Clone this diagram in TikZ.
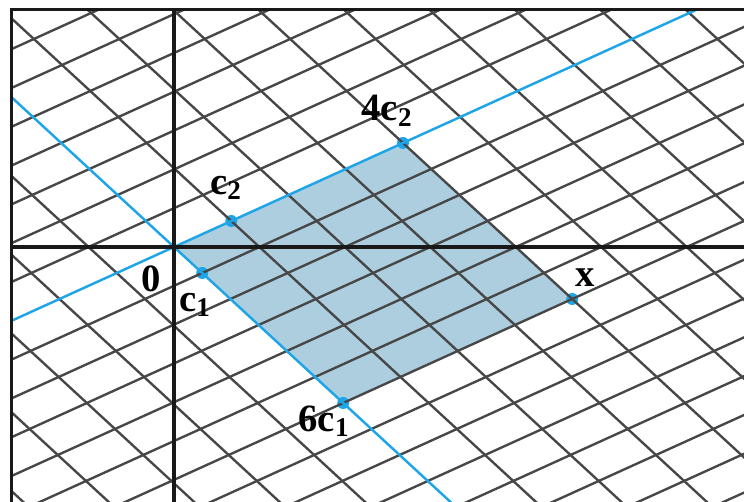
\documentclass[tikz,border=0pt]{standalone}
\usepackage{fontspec}
\setmainfont{Liberation Serif}
\usetikzlibrary{calc}
\begin{document}
\begin{tikzpicture}[x=0.02cm,y=-0.02cm,
  gridline/.style={draw=black!72,line width=1.35pt},
  blueline/.style={draw=cblue,line width=1.4pt},
  axis/.style={draw=black!90,line width=2.1pt},
  dot/.style={circle,fill=cblue,inner sep=0pt,minimum size=0.24cm},
  lab/.style={font=\fontsize{22}{26}\selectfont\bfseries,inner sep=0pt}]
\definecolor{cblue}{RGB}{30,165,232}
\definecolor{pshade}{RGB}{172,206,222}
\useasboundingbox (0,0) rectangle (744,502);
\coordinate (O) at (174,247);
\coordinate (c1) at (202.2,273);
\coordinate (c2) at (231.25,221);
\coordinate (c6) at (343.2,403);
\coordinate (c4) at (403,143);
\coordinate (xx) at (572.2,299);
\begin{scope}
\clip (12,10) rectangle (744,502);
% parallelogram
\fill[pshade] (O) -- (c6) -- (xx) -- (c4) -- cycle;
% dots
\foreach \p in {c1,c2,c6,c4,xx} \node[dot] at (\p) {};
% grid lines parallel to c2 through k*c1
\foreach \k in {-14,...,20} {
  \ifnum\k=0\else
  \draw[gridline] ($(O)+(\k*28.2,\k*26)+(-30*57.25,30*26)$) -- ($(O)+(\k*28.2,\k*26)+(30*57.25,-30*26)$);
  \fi
}
% grid lines parallel to c1 through m*c2
\foreach \m in {-12,...,16} {
  \ifnum\m=0\else
  \draw[gridline] ($(O)+(\m*57.25,-\m*26)+(-30*28.2,-30*26)$) -- ($(O)+(\m*57.25,-\m*26)+(30*28.2,30*26)$);
  \fi
}
% blue lines
\draw[blueline] ($(O)+(-30*28.2,-30*26)$) -- ($(O)+(30*28.2,30*26)$);
\draw[blueline] ($(O)+(-30*57.25,30*26)$) -- ($(O)+(30*57.25,-30*26)$);
% axes
\draw[axis] (174,10) -- (174,502);
\draw[axis] (12,247) -- (744,247);
\end{scope}
% frame
\draw[axis] (11.5,502) -- (11.5,9.5) -- (744,9.5);
% labels
\node[lab] (l0) at (151,279) {0};
\node[lab] (l1) at (195,305) {c\textsubscript{1}};
\node[lab] (l2) at (226,188) {c\textsubscript{2}};
\node[lab] (l4) at (387,111) {4c\textsubscript{2}};
\node[lab] (l6) at (324,421) {6c\textsubscript{1}};
\node[lab] (lx) at (585,278) {x};
\end{tikzpicture}
\end{document}
